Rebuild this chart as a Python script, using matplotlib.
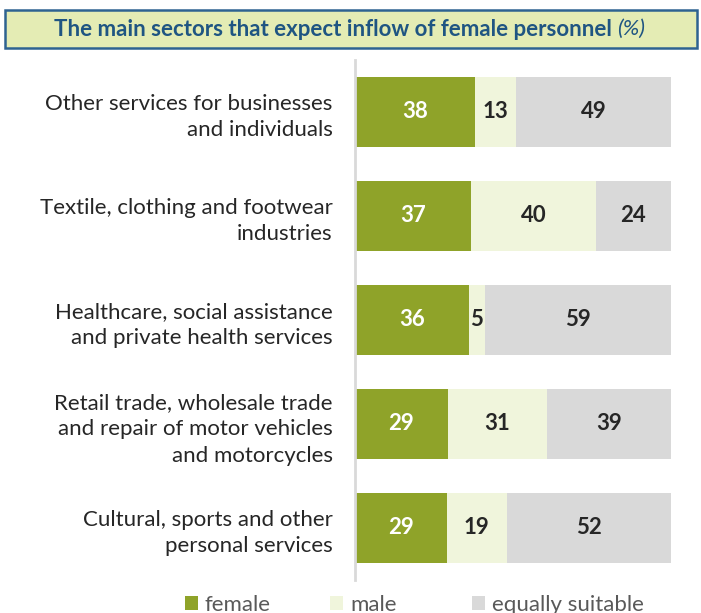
import matplotlib.pyplot as plt
from matplotlib.patches import Rectangle
import numpy as np

plt.rcParams['font.family'] = ['Lato', 'DejaVu Sans']

## Data
sectors = ['Other services for businesses\nand individuals',
           'Textile, clothing and footwear\nindustries',
           'Healthcare, social assistance\nand private health services',
           'Retail trade, wholesale trade\nand repair of motor vehicles\nand motorcycles',
           'Cultural, sports and other\npersonal services']
female = [38, 37, 36, 29, 29]
male = [13, 40, 5, 31, 19]
equal = [49, 24, 59, 39, 52]

series_names = ['female', 'male', 'equally suitable']
colors = ['#8fa329', '#f0f5dc', '#d9d9d9']
text_colors = ['white', '#262626', '#262626']

fig = plt.figure(figsize=(7.01, 6.13), dpi=100)
W, H = 701, 613

# title box
fig.patches.append(Rectangle((5 / W, 1 - 48 / H), 692 / W, 38 / H, transform=fig.transFigure,
                             facecolor='#e4ecb4', edgecolor='#2e6391', linewidth=1.8))

# title: bold part + italic (%), centred together
title_main = 'The main sectors that expect inflow of female personnel '
renderer = fig.canvas.get_renderer()
tmp = fig.text(0, 0, title_main + '(%)', fontsize=16, fontweight='bold')
full_w = tmp.get_window_extent(renderer).width
tmp.remove()
x0 = (W / 2 - full_w / 2) / W
txt = fig.text(x0, 1 - 29 / H, title_main, ha='left', va='center', fontsize=16,
               fontweight='bold', color='#1f5582')
bb = txt.get_window_extent(renderer)
fig.text(bb.x1 / W, 1 - 29 / H, '(%)', ha='left', va='center', fontsize=16,
         fontstyle='italic', color='#1f5582')

ax = fig.add_axes([355 / W, 1 - 580 / H, 316 / W, 520 / H])

data = np.array([female, male, equal], dtype=float)
shares = data / data.sum(axis=0) * 100
y = np.arange(len(sectors))
left = np.zeros(len(sectors))
bars = []
for i in range(3):
    b = ax.barh(y, shares[i], left=left, height=0.665, color=colors[i], label=series_names[i])
    bars.append(b)
    for j in range(len(sectors)):
        ax.text(left[j] + shares[i][j] / 2, y[j], str(int(data[i][j])), ha='center',
                va='center', fontsize=16, fontweight='bold', color=text_colors[i])
    left += shares[i]

ax.set_xlim(0, 100)
ax.set_ylim(len(sectors) - 0.5, -0.5)
ax.set_yticks(y)
ax.set_yticklabels(sectors, fontsize=16, color='#262626', linespacing=1.4)
ax.tick_params(axis='y', length=0, pad=16)
ax.set_xticks([])
for s in ['top', 'right', 'bottom']:
    ax.spines[s].set_visible(False)
ax.spines['left'].set_color('#d9d9d9')
ax.spines['left'].set_linewidth(2)

# legend: one entry per slot, spaced like the original
legend_x = [185, 330, 472]
for b, name, lx in zip(bars, series_names, legend_x):
    leg = fig.legend([b], [name], loc='center left', bbox_to_anchor=(lx / W, 1 - 605 / H),
                     frameon=False, fontsize=16, labelcolor='#595959', handlelength=0.6,
                     handleheight=0.6, handletextpad=0.3, borderpad=0, borderaxespad=0)

fig.savefig('out.png', dpi=100)
